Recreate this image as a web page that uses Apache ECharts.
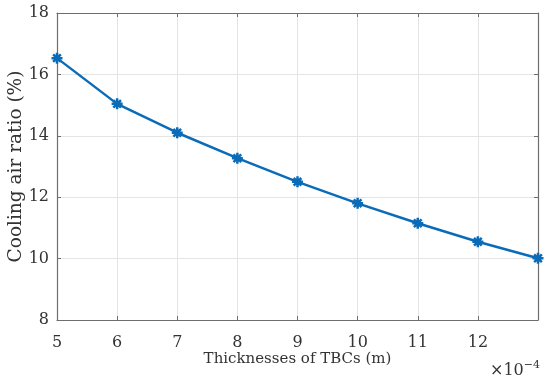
<!DOCTYPE html>
<html><head><meta charset="utf-8">
<script src="https://cdn.jsdelivr.net/npm/echarts@6/dist/echarts.min.js"></script>
<style>html,body{margin:0;padding:0;background:#fff}#c{width:550px;height:383px}</style>
</head><body><div id="c"></div>
<script>
var thickness = [5, 6, 7, 8, 9, 10, 11, 12, 13];
var coolingRatio = [16.53, 15.04, 14.1, 13.27, 12.5, 11.8, 11.15, 10.55, 10.01];
var xTicks = [5, 6, 7, 8, 9, 10, 11, 12];
var yTicks = [8, 10, 12, 14, 16, 18];

var font = 'DejaVu Serif';
var axisCol = '#6e6e6e';
var star = 'path://M0,-10L0,10M-10,0L10,0M-7,-7L7,7M-7,7L7,-7';
var chart = echarts.init(document.getElementById('c'));
var commonX = {
  type: 'value', min: 5, max: 13, interval: 1,
  axisLine: {show: true, lineStyle: {color: axisCol, width: 1.2}},
  axisTick: {show: true, inside: true, length: 4, lineStyle: {color: axisCol}},
  splitLine: {show: false}
};
var commonY = {
  type: 'value', min: 8, max: 18, interval: 2,
  axisLine: {show: true, lineStyle: {color: axisCol, width: 1.2}},
  axisTick: {show: true, inside: true, length: 4, lineStyle: {color: axisCol}},
  splitLine: {show: false}
};
chart.setOption({
  animation: false,
  grid: {left: 57, top: 13, right: 12, bottom: 63, containLabel: false, outerBoundsMode: 'none'},
  xAxis: [
    Object.assign({}, commonX, {
      position: 'bottom',
      splitLine: {show: true, lineStyle: {color: '#e4e4e4'}},
      axisLabel: {fontFamily: font, fontSize: 16, color: '#333', margin: 15,
        formatter: function (v) { return xTicks.indexOf(v) >= 0 ? String(v) : ''; }},
      name: 'Thicknesses of TBCs (m)', nameLocation: 'middle', nameGap: 32, nameMoveOverlap: false,
      nameTextStyle: {fontFamily: font, fontSize: 15, color: '#333'}
    }),
    Object.assign({}, commonX, {position: 'top', axisLabel: {show: false}})
  ],
  yAxis: [
    Object.assign({}, commonY, {
      position: 'left',
      splitLine: {show: true, lineStyle: {color: '#e4e4e4'}},
      axisLabel: {fontFamily: font, fontSize: 16, color: '#333', margin: 8,
        formatter: function (v) { return yTicks.indexOf(v) >= 0 ? String(v) : ''; }},
      name: 'Cooling air ratio (%)', nameLocation: 'middle', nameGap: 31, nameMoveOverlap: false,
      nameTextStyle: {fontFamily: font, fontSize: 18.5, color: '#333'}
    }),
    Object.assign({}, commonY, {position: 'right', axisLabel: {show: false}})
  ],
  graphic: [{
    type: 'text', left: 490, top: 360,
    style: {
      text: '×10{s|−4}',
      fontFamily: font, fontSize: 16, fill: '#333',
      rich: {s: {fontFamily: font, fontSize: 11, verticalAlign: 'top', padding: [0, 0, 10, 0], fill: '#333'}}
    }
  }],
  series: [{
    type: 'line',
    data: thickness.map(function (t, i) { return [t, coolingRatio[i]]; }),
    symbol: star, symbolSize: 11,
    lineStyle: {color: '#0a6cb8', width: 2.5},
    itemStyle: {color: '#0a6cb8', borderColor: '#0a6cb8', borderWidth: 2.5},
    clip: false
  }]
});
</script></body></html>
